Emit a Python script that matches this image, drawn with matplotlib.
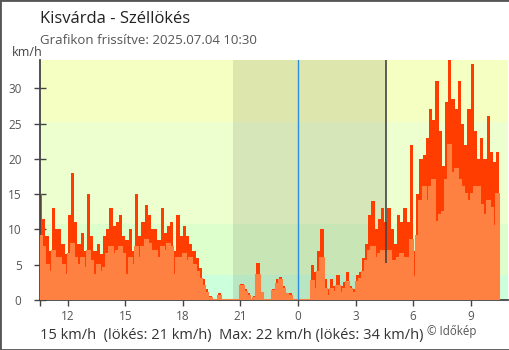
import numpy as np
import matplotlib.pyplot as plt
from matplotlib.patches import Rectangle

plt.rcParams['font.family'] = ['Open Sans', 'DejaVu Sans']

# 10 perces mérések, 10:30-tól másnap 10:30-ig (km/h)
gust_kmh = [
    15, 11.5, 9, 7, 13, 10,
    10, 8, 6.5, 12, 18, 11,
    8, 9.5, 7, 15, 9, 7,
    8, 6.5, 9, 10, 13, 10.5,
    11, 12, 9, 8.5, 10, 7,
    15, 9, 11, 13.5, 12, 10,
    10, 8.5, 13, 9.5, 10.5, 11,
    7, 12, 9, 10.5, 9, 8,
    7, 6, 4.5, 3, 1.5, 0.5,
    0.2, 0, 1, 0, 0, 0,
    0, 0, 0, 2.3, 1.5, 1,
    0, 0.5, 5.2, 1.2, 0, 0,
    0, 1.5, 3, 3.2, 2, 1,
    1, 0, 0, 0, 0, 0,
    0, 5, 4, 7, 10, 3,
    1.5, 3, 2, 3.5, 2, 2.5,
    4, 2, 1.5, 3.5, 4, 6,
    8, 12, 14, 10, 11.5, 13,
    11, 13, 10, 8, 12, 11,
    13, 11, 22, 7, 15, 20,
    20.5, 23, 27, 25.5, 31, 24,
    19, 28, 34, 28.5, 27, 31,
    25, 22, 27, 33.5, 24, 20,
    23, 20, 26, 21, 19.5, 21,
]
avg_kmh = [
    9, 7.5, 5, 4, 7, 6,
    6, 5, 3.5, 6.5, 8, 6,
    5, 6, 4.5, 7, 5.5, 3.5,
    5, 4, 4.5, 6.5, 7.5, 6.5,
    7, 7.5, 6.5, 3.5, 6, 5,
    7.5, 6, 7.5, 8.5, 8, 7,
    7, 6, 7.5, 7, 8, 7.5,
    3.5, 6, 6, 6.5, 5.5, 6,
    5, 4, 3, 2, 1, 0.3,
    0, 0, 0.6, 0, 0, 0,
    0, 0, 0, 2, 1.2, 0.5,
    0, 0.3, 3.5, 1, 0, 0,
    0, 1.3, 2.3, 2.8, 1.5, 0.8,
    0.5, 0, 0, 0, 0, 0,
    0, 2.7, 1.5, 4, 6, 1.5,
    0.5, 1.5, 1.2, 2, 1, 1.5,
    2.5, 1.5, 1, 2.5, 3, 4,
    5.5, 7, 7.5, 6, 6.5, 7,
    6.5, 7, 5.5, 5.5, 6, 6.5,
    6, 6, 8.5, 3.3, 9, 14,
    16, 14, 16, 17, 11, 12,
    12.5, 17, 22, 18, 18.5, 17,
    16, 15, 14, 15, 16, 16,
    13.5, 12, 14, 13, 10.5, 15,
]
start_hour = 10.5
step_hour = 1 / 6

tick_hours = [12, 15, 18, 21, 24, 27, 30, 33]
tick_labels = ['12', '15', '18', '21', '0', '3', '6', '9']
y_ticks = [0, 5, 10, 15, 20, 25, 30]

# szélerősség sávok háttérszínei
band_edges = [0, 3.6, 10.8, 25.2, 34]
band_colors = ['#ccffdb', '#ddffcc', '#eeffcf', '#f5ffc2']

night_start, night_end = 20.6, 28.6
now_line_top = 5.2

fig = plt.figure(figsize=(5.1, 3.5), dpi=100)
ax = fig.add_axes([40 / 510, 50 / 350, 468 / 510, 240 / 350])

for lo, hi, c in zip(band_edges[:-1], band_edges[1:], band_colors):
    ax.axhspan(lo, hi, color=c, lw=0, zorder=0)
ax.axvspan(night_start, night_end, color='#202000', alpha=0.11, lw=0, zorder=1)

edges = start_hour + step_hour * np.arange(len(gust_kmh) + 1)
ax.stairs(gust_kmh, edges, fill=True, color='#ff3d00', lw=0, zorder=2)
ax.stairs(avg_kmh, edges, fill=True, color='#ff8142', lw=0, zorder=3)
ax.stairs(avg_kmh, edges, color='#ff8142', lw=1.5, zorder=3)

ax.axvline(24, color='#2a8de0', lw=1, zorder=4)
ax.vlines(night_end, now_line_top, 34, color='#444444', lw=1.2, zorder=4)

ax.set_xlim(10.55, 34.95)
ax.set_ylim(0, 34)
ax.set_xticks([10.55] + tick_hours)
ax.set_xticklabels([''] + tick_labels)
ax.set_yticks(y_ticks)

for side in ['top', 'right']:
    ax.spines[side].set_visible(False)
for side in ['left', 'bottom']:
    ax.spines[side].set_color('#444444')
    ax.spines[side].set_linewidth(1.3)

ax.tick_params(axis='y', direction='inout', length=8.6, width=1, color='#444444',
               labelsize=8.5, labelcolor='#555555', pad=9)
ax.tick_params(axis='x', direction='out', length=4.5, width=1, color='#444444',
               labelsize=8.5, labelcolor='#555555', pad=3)

fig.text(40 / 510, 1 - 19 / 350, 'Kisvárda - Széllökés', fontsize=12, color='#222222', va='center')
fig.text(40 / 510, 1 - 40 / 350, 'Grafikon frissítve: 2025.07.04 10:30', fontsize=9.5,
         color='#555555', va='center')
fig.text(12 / 510, 1 - 52 / 350, 'km/h', fontsize=9, color='#444444', va='center')

footer = (f'{avg_kmh[-1]:.0f} km/h  (lökés: {gust_kmh[-1]:.0f} km/h)  '
          f'Max: {max(avg_kmh):.0f} km/h (lökés: {max(gust_kmh):.0f} km/h)')
fig.text(40 / 510, 1 - 339 / 350, footer, fontsize=10.55, color='#333333', va='baseline')
fig.text(427 / 510, 1 - 335 / 350, '© Időkép', fontsize=8.3, color='#555555', va='baseline')

fig.patches.append(Rectangle((0, 0), 1, 1, transform=fig.transFigure, fill=False,
                             edgecolor='#555555', lw=2))

fig.savefig('out.png', dpi=100)
